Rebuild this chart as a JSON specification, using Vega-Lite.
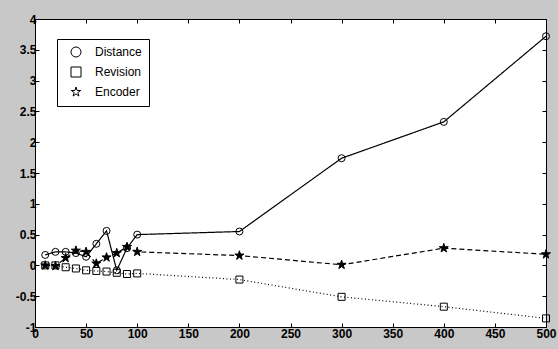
{
  "$schema": "https://vega.github.io/schema/vega-lite/v6.json",
  "width": 511,
  "height": 308,
  "autosize": {"type": "none"},
  "padding": {"left": 35, "top": 19, "right": 12, "bottom": 22},
  "background": "#c8c8c8",
  "config": {
    "view": {"fill": "white", "stroke": "black", "strokeWidth": 1},
    "font": "Liberation Sans",
    "axis": {"grid": false, "domain": false, "title": null, "tickColor": "black", "tickWidth": 1, "labelColor": "black", "labelFontSize": 12, "labelFontWeight": "bold", "labelFont": "Liberation Sans", "labelFlush": false, "labelOverlap": false}
  },
  "data": {
    "values": [
      {"series": "Distance", "x": 10, "y": 0.17},
      {"series": "Distance", "x": 20, "y": 0.22},
      {"series": "Distance", "x": 30, "y": 0.22},
      {"series": "Distance", "x": 40, "y": 0.2},
      {"series": "Distance", "x": 50, "y": 0.14},
      {"series": "Distance", "x": 60, "y": 0.35},
      {"series": "Distance", "x": 70, "y": 0.56},
      {"series": "Distance", "x": 80, "y": -0.08},
      {"series": "Distance", "x": 90, "y": 0.28},
      {"series": "Distance", "x": 100, "y": 0.5},
      {"series": "Distance", "x": 200, "y": 0.55},
      {"series": "Distance", "x": 300, "y": 1.74},
      {"series": "Distance", "x": 400, "y": 2.33},
      {"series": "Distance", "x": 500, "y": 3.72},
      {"series": "Revision", "x": 10, "y": 0.0},
      {"series": "Revision", "x": 20, "y": 0.0},
      {"series": "Revision", "x": 30, "y": -0.03},
      {"series": "Revision", "x": 40, "y": -0.05},
      {"series": "Revision", "x": 50, "y": -0.08},
      {"series": "Revision", "x": 60, "y": -0.09},
      {"series": "Revision", "x": 70, "y": -0.1},
      {"series": "Revision", "x": 80, "y": -0.12},
      {"series": "Revision", "x": 90, "y": -0.14},
      {"series": "Revision", "x": 100, "y": -0.13},
      {"series": "Revision", "x": 200, "y": -0.23},
      {"series": "Revision", "x": 300, "y": -0.51},
      {"series": "Revision", "x": 400, "y": -0.67},
      {"series": "Revision", "x": 500, "y": -0.86},
      {"series": "Encoder", "x": 10, "y": 0.0},
      {"series": "Encoder", "x": 20, "y": -0.01},
      {"series": "Encoder", "x": 30, "y": 0.12},
      {"series": "Encoder", "x": 40, "y": 0.24},
      {"series": "Encoder", "x": 50, "y": 0.22},
      {"series": "Encoder", "x": 60, "y": 0.03},
      {"series": "Encoder", "x": 70, "y": 0.13},
      {"series": "Encoder", "x": 80, "y": 0.2},
      {"series": "Encoder", "x": 90, "y": 0.3},
      {"series": "Encoder", "x": 100, "y": 0.22},
      {"series": "Encoder", "x": 200, "y": 0.16},
      {"series": "Encoder", "x": 300, "y": 0.01},
      {"series": "Encoder", "x": 400, "y": 0.28},
      {"series": "Encoder", "x": 500, "y": 0.18}
    ]
  },
  "layer": [
    {
      "mark": {"type": "line", "color": "black", "strokeWidth": 1.2},
      "encoding": {
        "x": {"field": "x", "type": "quantitative", "scale": {"domain": [0, 500], "nice": false},
              "axis": {"orient": "bottom", "values": [0, 50, 100, 150, 200, 250, 300, 350, 400, 450, 500], "tickSize": -4, "labelPadding": 5}},
        "y": {"field": "y", "type": "quantitative", "scale": {"domain": [-1, 4], "nice": false, "zero": false},
              "axis": {"orient": "left", "values": [-1, -0.5, 0, 0.5, 1, 1.5, 2, 2.5, 3, 3.5, 4], "tickSize": -4, "labelPadding": 3, "labelExpr": "'' + datum.value"}},
        "detail": {"field": "series", "type": "nominal"},
        "strokeDash": {
          "condition": [
            {"test": "datum.series === 'Revision'", "value": [1, 2.5]},
            {"test": "datum.series === 'Encoder'", "value": [5, 3]}
          ],
          "value": [1, 0]
        }
      }
    },
    {
      "mark": {"type": "point", "filled": true, "stroke": "black", "strokeWidth": 1, "opacity": 1},
      "encoding": {
        "x": {"field": "x", "type": "quantitative", "axis": {"orient": "top", "values": [0, 50, 100, 150, 200, 250, 300, 350, 400, 450, 500], "tickSize": -4, "labels": false}},
        "y": {"field": "y", "type": "quantitative", "axis": {"orient": "right", "values": [-1, -0.5, 0, 0.5, 1, 1.5, 2, 2.5, 3, 3.5, 4], "tickSize": -4, "labels": false}},
        "shape": {"field": "series", "type": "nominal",
          "scale": {"domain": ["Distance", "Revision", "Encoder"], "range": ["circle", "square", "M0,-1L0.2245,-0.309L0.951,-0.309L0.363,0.118L0.588,0.809L0,0.382L-0.588,0.809L-0.363,0.118L-0.951,-0.309L-0.2245,-0.309Z"]},
          "legend": {
            "orient": "none", "legendX": 22, "legendY": 20, "title": null, "direction": "vertical",
            "strokeColor": "black", "fillColor": "white", "padding": 7, "rowPadding": 6, "cornerRadius": 0,
            "symbolSize": 100, "symbolOffset": 6, "labelOffset": 13,
            "labelFontSize": 12, "labelFont": "Liberation Sans", "labelColor": "black",
            "symbolStrokeColor": "black", "symbolStrokeWidth": 1, "symbolOpacity": 1,
            "labelExpr": "datum.label + '\u00a0\u00a0\u00a0\u00a0\u00a0\u00a0\u00a0'",
            "encode": {"symbols": {"update": {
              "shape": {"signal": "datum.value === 'Distance' ? 'M-3,0L-0.6,0M0.6,0L3,0M-0.6,0A0.6,0.6 0 1,0 0.6,0A0.6,0.6 0 1,0 -0.6,0' : datum.value === 'Revision' ? 'M-3,0h0.25M-2.5,0h0.25M-2,0h0.25M-1.5,0h0.25M-1,0h0.25M0.85,0h0.25M1.35,0h0.25M1.85,0h0.25M2.35,0h0.25M2.75,0h0.25M-0.6,-0.6h1.2v1.2h-1.2Z' : 'M-3,0h0.8M-1.8,0h0.8M1,0h0.8M2.2,0h0.8M0,-0.8L0.18,-0.247L0.761,-0.247L0.29,0.094L0.47,0.647L0,0.306L-0.47,0.647L-0.29,0.094L-0.761,-0.247L-0.18,-0.247Z'"},
              "fill": {"signal": "datum.value === 'Encoder' ? 'black' : 'transparent'"},
              "stroke": {"value": "black"},
              "size": {"value": 100},
              "strokeWidth": {"value": 1}
            }}}
          }},
        "fill": {"condition": {"test": "datum.series === 'Encoder'", "value": "black"}, "value": "transparent"},
        "size": {"condition": {"test": "datum.series === 'Encoder'", "value": 90}, "value": 49}
      }
    }
  ],
  "resolve": {"axis": {"x": "independent", "y": "independent"}}
}
